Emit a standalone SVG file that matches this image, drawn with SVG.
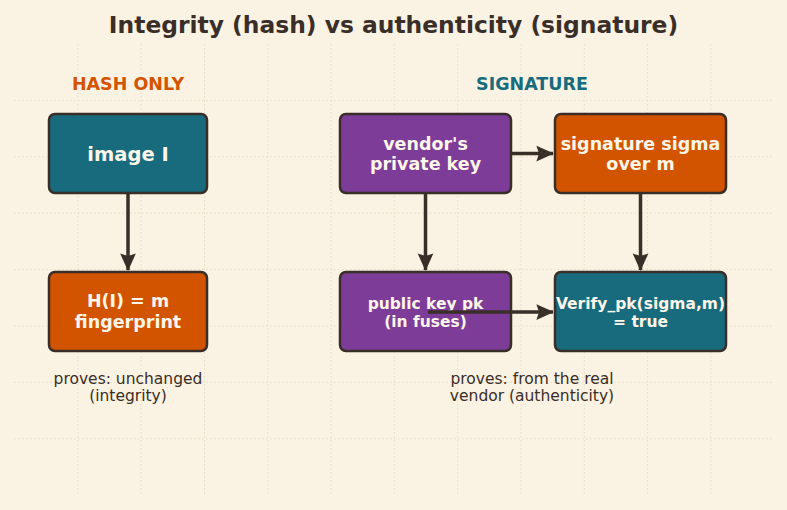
<svg xmlns="http://www.w3.org/2000/svg" width="787" height="510" viewBox="0 0 787 510">
<defs>
<marker id="ah" viewBox="0 0 10 10" refX="9.5" refY="5" markerWidth="5" markerHeight="5" markerUnits="strokeWidth" orient="auto">
<path d="M0,0.5 L10,5 L0,9.5 L1.5,5 z" fill="#3a2e28"/>
</marker>
</defs>
<style>
.grid line{stroke:#e6dcc6;stroke-width:1;stroke-dasharray:1.5 2.5}
.box{stroke:#3a2e28;stroke-width:2.5}
.teal{fill:#176b7d}
.orange{fill:#d35400}
.purple{fill:#7d3c98}
.bt{font-family:"DejaVu Sans",sans-serif;font-weight:bold;fill:#fdf6e9;text-anchor:middle}
.conn line{stroke:#3a2e28;stroke-width:3.5;marker-end:url(#ah)}
.cap{font-family:"DejaVu Sans",sans-serif;font-size:15.5px;fill:#3a2e28;text-anchor:middle}
.sec{font-family:"DejaVu Sans",sans-serif;font-size:17.5px;font-weight:bold;text-anchor:middle}
</style>
<rect width="787" height="510" fill="#faf2e3"/>
<g class="grid">
<line x1="77.9" y1="44" x2="77.9" y2="495"/>
<line x1="141.2" y1="44" x2="141.2" y2="495"/>
<line x1="204.5" y1="44" x2="204.5" y2="495"/>
<line x1="267.8" y1="44" x2="267.8" y2="495"/>
<line x1="331.1" y1="44" x2="331.1" y2="495"/>
<line x1="394.4" y1="44" x2="394.4" y2="495"/>
<line x1="457.7" y1="44" x2="457.7" y2="495"/>
<line x1="521" y1="44" x2="521" y2="495"/>
<line x1="584.3" y1="44" x2="584.3" y2="495"/>
<line x1="647.6" y1="44" x2="647.6" y2="495"/>
<line x1="710.9" y1="44" x2="710.9" y2="495"/>
<line x1="14" y1="100.4" x2="773" y2="100.4"/>
<line x1="14" y1="156.8" x2="773" y2="156.8"/>
<line x1="14" y1="213.2" x2="773" y2="213.2"/>
<line x1="14" y1="269.6" x2="773" y2="269.6"/>
<line x1="14" y1="326" x2="773" y2="326"/>
<line x1="14" y1="382.4" x2="773" y2="382.4"/>
<line x1="14" y1="438.8" x2="773" y2="438.8"/>
</g>
<text x="393.5" y="33" font-family="DejaVu Sans,sans-serif" font-size="23.4" font-weight="bold" fill="#3a2e28" text-anchor="middle">Integrity (hash) vs authenticity (signature)</text>
<text class="sec" x="128" y="90" fill="#d35400">HASH ONLY</text>
<text class="sec" x="532" y="90" fill="#176b7d">SIGNATURE</text>
<g id="image">
<rect class="box teal" x="49" y="114" width="158" height="79" rx="6"/>
<text class="bt" x="128" y="161" font-size="19.5">image I</text>
</g>
<g id="hash">
<rect class="box orange" x="49" y="272" width="158" height="79" rx="6"/>
<text class="bt" x="128" y="307" font-size="17.5">H(I) = m</text>
<text class="bt" x="128" y="328" font-size="17.5">fingerprint</text>
</g>
<g id="privkey">
<rect class="box purple" x="340" y="114" width="171" height="79" rx="6"/>
<text class="bt" x="425.5" y="150" font-size="17.5">vendor's</text>
<text class="bt" x="425.5" y="170" font-size="17.5">private key</text>
</g>
<g id="sigma">
<rect class="box orange" x="555" y="114" width="171" height="79" rx="6"/>
<text class="bt" x="640.5" y="150" font-size="17.5">signature sigma</text>
<text class="bt" x="640.5" y="170" font-size="17.5">over m</text>
</g>
<g id="pubkey">
<rect class="box purple" x="340" y="272" width="171" height="79" rx="6"/>
<text class="bt" x="425.5" y="309" font-size="15.5">public key pk</text>
<text class="bt" x="425.5" y="327" font-size="15.5">(in fuses)</text>
</g>
<g id="verify">
<rect class="box teal" x="555" y="272" width="171" height="79" rx="6"/>
<text class="bt" x="640.5" y="309" font-size="15.5">Verify_pk(sigma,m)</text>
<text class="bt" x="640.5" y="327" font-size="15.5">= true</text>
</g>
<g class="conn">
<line x1="128" y1="193" x2="128" y2="270"/>
<line x1="425.5" y1="193" x2="425.5" y2="270"/>
<line x1="640.5" y1="193" x2="640.5" y2="270"/>
<line x1="511" y1="153.5" x2="553" y2="153.5"/>
<line x1="428" y1="312" x2="553" y2="312"/>
</g>
<text class="cap" x="128" y="384">proves: unchanged</text>
<text class="cap" x="128" y="401">(integrity)</text>
<text class="cap" x="532" y="384">proves: from the real</text>
<text class="cap" x="532" y="401">vendor (authenticity)</text>
</svg>
